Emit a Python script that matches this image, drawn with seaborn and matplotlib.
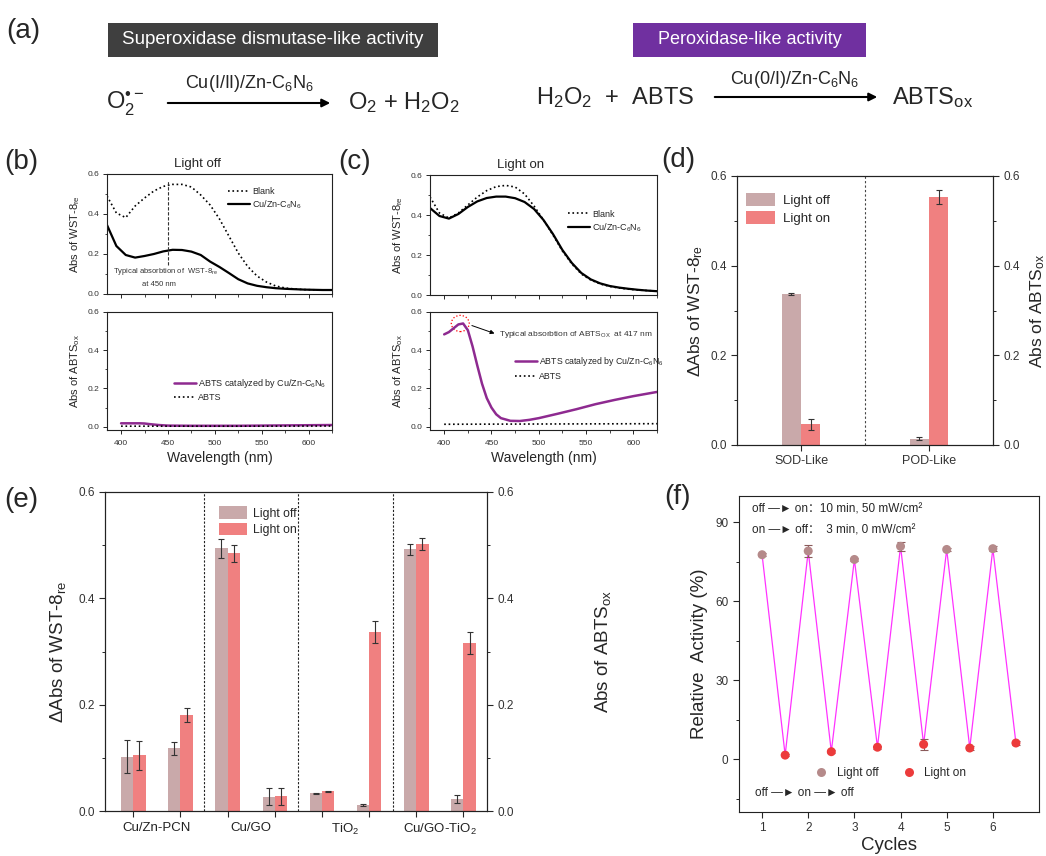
import pandas as pd
import seaborn as sns
import matplotlib as mpl
import matplotlib.pyplot as plt
from matplotlib.patches import Rectangle, Ellipse, FancyArrowPatch

sns.set_style("ticks")
mpl.rcParams['font.family'] = ['Liberation Sans', 'DejaVu Sans', 'Noto Sans CJK SC']
mpl.rcParams['mathtext.fontset'] = 'custom'
mpl.rcParams['mathtext.rm'] = 'Liberation Sans'
mpl.rcParams['mathtext.it'] = 'Liberation Sans:italic'
mpl.rcParams['mathtext.bf'] = 'Liberation Sans:bold'
mpl.rcParams['axes.linewidth'] = 0.8
mpl.rcParams['axes.edgecolor'] = '#222222'

# ---------------- data ----------------
# UV-vis spectra (b, c), WST-8 region
wavelength = [385, 395, 405, 415, 425, 435, 445, 455, 465, 475, 485, 495, 505,
              515, 525, 535, 545, 555, 565, 575, 585, 595, 605, 615, 625]
blank_off = [0.49, 0.405, 0.382, 0.44, 0.48, 0.515, 0.538, 0.548, 0.548, 0.535, 0.495, 0.445, 0.375,
             0.29, 0.205, 0.138, 0.09, 0.06, 0.04, 0.03, 0.025, 0.022, 0.021, 0.02, 0.02]
cu_off = [0.345, 0.24, 0.195, 0.182, 0.19, 0.2, 0.213, 0.221, 0.22, 0.212, 0.195, 0.162, 0.135,
          0.105, 0.074, 0.053, 0.041, 0.034, 0.029, 0.026, 0.024, 0.022, 0.021, 0.02, 0.02]
blank_on = [0.49, 0.41, 0.385, 0.41, 0.45, 0.49, 0.522, 0.542, 0.548, 0.54, 0.505, 0.445, 0.375,
            0.3, 0.22, 0.155, 0.105, 0.075, 0.055, 0.043, 0.035, 0.029, 0.025, 0.022, 0.02]
cu_on = [0.435, 0.395, 0.382, 0.405, 0.44, 0.468, 0.485, 0.492, 0.492, 0.484, 0.465, 0.43, 0.375,
         0.305, 0.225, 0.16, 0.11, 0.078, 0.058, 0.045, 0.037, 0.031, 0.026, 0.022, 0.019]

# ABTS region
abts_wl_off = [400, 410, 420, 425, 430, 440, 450, 475, 500, 525, 550, 575, 600, 625]
abts_cat_off = [0.018, 0.018, 0.018, 0.017, 0.014, 0.009, 0.006, 0.005, 0.005, 0.005, 0.006, 0.007, 0.008, 0.009]
abts_ref_wl = [400, 475, 550, 625]
abts_ref_off = [0.003, 0.003, 0.003, 0.004]
abts_wl_on = [400, 405, 410, 415, 420, 425, 430, 435, 440, 445, 450, 455, 460,
              470, 480, 490, 500, 520, 540, 560, 580, 600, 625]
abts_cat_on = [0.483, 0.495, 0.515, 0.535, 0.54, 0.505, 0.42, 0.32, 0.225, 0.15, 0.1, 0.065, 0.045,
               0.031, 0.03, 0.036, 0.045, 0.068, 0.092, 0.118, 0.14, 0.16, 0.182]
abts_ref_on = [0.013, 0.014, 0.015, 0.016]

# (d)
assays_d = ['SOD-Like', 'POD-Like']
d_off = [0.336, 0.014]
d_off_err = [0.002, 0.003]
d_on = [0.046, 0.553]
d_on_err = [0.013, 0.016]

# (e)
materials = ['Cu/Zn-PCN', 'Cu/GO', 'TiO$_2$', 'Cu/GO-TiO$_2$']
assays_e = ['SOD', 'POD']
e_off = [0.102, 0.118, 0.494, 0.027, 0.033, 0.011, 0.492, 0.023]
e_off_err = [0.031, 0.012, 0.018, 0.016, 0.001, 0.002, 0.010, 0.008]
e_on = [0.105, 0.180, 0.485, 0.028, 0.037, 0.337, 0.502, 0.316]
e_on_err = [0.027, 0.013, 0.016, 0.016, 0.001, 0.021, 0.012, 0.020]

# (f)
cycles_off = [1, 2, 3, 4, 5, 6]
act_off = [77.7, 79.1, 75.9, 80.9, 79.7, 80.0]
act_off_err = [0.6, 2.2, 0.7, 1.6, 0.6, 0.9]
cycles_on = [1.5, 2.5, 3.5, 4.5, 5.5, 6.5]
act_on = [1.6, 2.9, 4.6, 5.7, 4.3, 6.2]
act_on_err = [0.5, 0.6, 0.6, 2.0, 0.6, 0.6]

off_c = '#c9a9aa'
on_c = '#f08080'
purple = '#8e2a90'

W, H = 1046, 856
fig = plt.figure(figsize=(W / 100, H / 100), dpi=100)


def box(l, t, r, b):
    return [l / W, 1 - b / H, (r - l) / W, (b - t) / H]


def style_spec(ax, bottom):
    ax.set_xlim(385, 625)
    ax.set_xticks([400, 450, 500, 550, 600])
    ax.set_xticks([425, 475, 525, 575, 625], minor=True)
    ax.set_yticks([0, 0.2, 0.4, 0.6])
    ax.set_yticks([0.1, 0.3, 0.5], minor=True)
    ax.yaxis.set_major_formatter('{x:.1f}')
    ax.tick_params(which='major', length=3, width=0.7, labelsize=6, labelcolor='#333', pad=2.5)
    ax.tick_params(axis='x', which='major', pad=4)
    ax.tick_params(which='minor', length=1.8, width=0.6)
    if not bottom:
        ax.tick_params(labelbottom=False)
        ax.set_ylim(0, 0.6)
    else:
        ax.set_ylim(-0.017, 0.6)
        ax.set_xlabel('Wavelength (nm)', fontsize=10, labelpad=3)
    for s in ax.spines.values():
        s.set_visible(True)


# ---------------- (a) header ----------------
fig.text(6 / W, 1 - 31 / H, '(a)', fontsize=20, va='center')
fig.add_artist(Rectangle((108 / W, 1 - 57 / H), 330 / W, 34 / H, transform=fig.transFigure,
                         facecolor='#3f3f3f', edgecolor='none'))
fig.text(273 / W, 1 - 40 / H, 'Superoxidase dismutase-like activity', color='white',
         fontsize=13.5, ha='center', va='center')
fig.add_artist(Rectangle((633 / W, 1 - 57 / H), 233 / W, 34 / H, transform=fig.transFigure,
                         facecolor='#7030a0', edgecolor='none'))
fig.text(749.5 / W, 1 - 40 / H, 'Peroxidase-like activity', color='white',
         fontsize=13, ha='center', va='center')

fig.text(106 / W, 1 - 103 / H, 'O$_2^{•-}$', fontsize=17, va='center')
fig.add_artist(FancyArrowPatch((165 / W, 1 - 103 / H), (333 / W, 1 - 103 / H), transform=fig.transFigure,
                               arrowstyle='-|>', mutation_scale=12, lw=1.5, color='k'))
fig.text(249 / W, 1 - 83 / H, 'Cu(I/II)/Zn-C$_6$N$_6$', fontsize=13, ha='center', va='center')
fig.text(348 / W, 1 - 103 / H, 'O$_2$ + H$_2$O$_2$', fontsize=17, va='center')

fig.text(536 / W, 1 - 98 / H, 'H$_2$O$_2$  +  ABTS', fontsize=17, va='center')
fig.add_artist(FancyArrowPatch((712 / W, 1 - 97 / H), (880 / W, 1 - 97 / H), transform=fig.transFigure,
                               arrowstyle='-|>', mutation_scale=12, lw=1.5, color='k'))
fig.text(795 / W, 1 - 80 / H, 'Cu(0/I)/Zn-C$_6$N$_6$', fontsize=13, ha='center', va='center')
fig.text(892 / W, 1 - 98 / H, 'ABTS$_\\mathrm{ox}$', fontsize=17, va='center')

# ---------------- (b) light off ----------------
ax_b1 = fig.add_axes(box(107, 174, 332, 294))
ax_b2 = fig.add_axes(box(107, 312, 332, 430))
fig.text(4 / W, 1 - 162 / H, '(b)', fontsize=20, va='center')

sns.lineplot(x=wavelength, y=blank_off, ax=ax_b1, color='k', lw=1.2, linestyle=':', label='Blank')
sns.lineplot(x=wavelength, y=cu_off, ax=ax_b1, color='k', lw=1.6, label='Cu/Zn-C$_6$N$_6$')
peak_nm = 450
ax_b1.vlines(peak_nm, 0.146, 0.564, colors='#333', linestyles=(0, (3, 1.5)), lw=0.8)
ax_b1.text(447, 0.112, 'Typical absorbtion of  WST-8$_\\mathrm{re}$', fontsize=5.5, ha='center', va='center', color='#333')
ax_b1.text(440, 0.045, 'at 450 nm', fontsize=5.5, ha='center', va='center', color='#333')
ax_b1.legend(loc='upper left', bbox_to_anchor=(0.5, 0.96), frameon=False, fontsize=6.5,
             handlelength=2.5, handletextpad=0.2, labelspacing=0.3)
ax_b1.set_title('Light off', fontsize=9.5, pad=5, x=0.4)
ax_b1.set_ylabel('Abs of WST-8$_\\mathrm{re}$', fontsize=8, labelpad=4)
style_spec(ax_b1, False)

sns.lineplot(x=abts_wl_off, y=abts_cat_off, ax=ax_b2, color=purple, lw=1.8,
             label='ABTS catalyzed by Cu/Zn-C$_6$N$_6$')
sns.lineplot(x=abts_ref_wl, y=abts_ref_off, ax=ax_b2, color='k', lw=1.2, linestyle=':', label='ABTS')
ax_b2.legend(loc='upper left', bbox_to_anchor=(0.26, 0.52), frameon=False, fontsize=6.5,
             handlelength=2.5, handletextpad=0.2, labelspacing=0.4)
ax_b2.set_ylabel('Abs of ABTS$_\\mathrm{ox}$', fontsize=8, labelpad=4)
style_spec(ax_b2, True)

# ---------------- (c) light on ----------------
ax_c1 = fig.add_axes(box(430, 175, 657, 295))
ax_c2 = fig.add_axes(box(430, 312, 657, 430))
fig.text(338 / W, 1 - 162 / H, '(c)', fontsize=20, va='center')

sns.lineplot(x=wavelength, y=blank_on, ax=ax_c1, color='k', lw=1.2, linestyle=':', label='Blank')
sns.lineplot(x=wavelength, y=cu_on, ax=ax_c1, color='k', lw=1.6, label='Cu/Zn-C$_6$N$_6$')
ax_c1.legend(loc='upper left', bbox_to_anchor=(0.57, 0.78), frameon=False, fontsize=6.5,
             handlelength=2.5, handletextpad=0.2, labelspacing=0.3)
ax_c1.set_title('Light on', fontsize=9.5, pad=5, x=0.4)
ax_c1.set_ylabel('Abs of WST-8$_\\mathrm{re}$', fontsize=8, labelpad=4)
style_spec(ax_c1, False)

sns.lineplot(x=abts_wl_on, y=abts_cat_on, ax=ax_c2, color=purple, lw=1.8,
             label='ABTS catalyzed by Cu/Zn-C$_6$N$_6$')
sns.lineplot(x=abts_ref_wl, y=abts_ref_on, ax=ax_c2, color='k', lw=1.2, linestyle=':', label='ABTS')
ax_c2.add_patch(Ellipse((417, 0.54), 19, 0.085, fill=False, ec='red', ls=':', lw=0.9))
ax_c2.annotate('', xy=(456, 0.483), xytext=(426.5, 0.534),
               arrowprops=dict(arrowstyle='-|>', color='k', lw=0.7, mutation_scale=6))
ax_c2.text(458, 0.48, 'Typical absorbtion of ABTS$_\\mathrm{OX}$  at 417 nm', fontsize=6,
           va='center', color='#333')
ax_c2.legend(loc='upper left', bbox_to_anchor=(0.34, 0.70), frameon=False, fontsize=6.3,
             handlelength=2.5, handletextpad=0.2, labelspacing=0.4)
ax_c2.set_ylabel('Abs of ABTS$_\\mathrm{ox}$', fontsize=8, labelpad=4)
style_spec(ax_c2, True)


# ---------------- bar helpers ----------------
def add_errs(ax, errs_by_level):
    for cont, errs in zip(ax.containers, errs_by_level):
        xs = [p.get_x() + p.get_width() / 2 for p in cont]
        ys = [p.get_height() for p in cont]
        ax.errorbar(xs, ys, yerr=errs, fmt='none', ecolor='#333', elinewidth=0.8,
                    capsize=2.5, capthick=0.8, zorder=4)


def style_bar_y(ax, size):
    ax.set_ylim(0, 0.6)
    ax.set_yticks([0, 0.2, 0.4, 0.6])
    ax.set_yticks([0.1, 0.3, 0.5], minor=True)
    ax.yaxis.set_major_formatter('{x:.1f}')
    ax.tick_params(axis='y', which='major', length=4, width=0.8, labelsize=size, labelcolor='#333')
    ax.tick_params(axis='y', which='minor', length=2.5, width=0.7)
    for s in ax.spines.values():
        s.set_visible(True)


# ---------------- (d) ----------------
ax_d = fig.add_axes(box(737, 176, 993, 445))
fig.text(661 / W, 1 - 160 / H, '(d)', fontsize=20, va='center')
df_d = pd.DataFrame({'Assay': assays_d * 2,
                     'Condition': ['Light off'] * 2 + ['Light on'] * 2,
                     'Value': d_off + d_on})
sns.barplot(data=df_d, x='Assay', y='Value', hue='Condition', palette=[off_c, on_c],
            width=0.3, errorbar=None, saturation=1, ax=ax_d, lw=0)
add_errs(ax_d, [d_off_err, d_on_err])
ax_d.set_xlim(-0.5, 1.5)
ax_d.axvline(0.5, color='#444', ls=(0, (2, 2)), lw=0.8)
style_bar_y(ax_d, 8.5)
ax_d.tick_params(axis='x', length=4, width=0.8, labelsize=9, labelcolor='#333')
ax_d.set_xlabel('')
ax_d.set_ylabel('ΔAbs of WST-8$_\\mathrm{re}$', fontsize=12.5, labelpad=4)
h, l = ax_d.get_legend_handles_labels()
ax_d.legend(h, l, loc='upper left', bbox_to_anchor=(-0.01, 0.98), frameon=False, fontsize=9.5,
            handlelength=2.2, handleheight=1.1, labelspacing=0.3, handletextpad=0.6)
ax_d2 = ax_d.twinx()
style_bar_y(ax_d2, 8.5)
ax_d2.set_ylabel('Abs of ABTS$_\\mathrm{ox}$', fontsize=12.5, labelpad=6)

# ---------------- (e) ----------------
ax_e = fig.add_axes(box(105, 492, 487, 811))
fig.text(4 / W, 1 - 500 / H, '(e)', fontsize=20, va='center')
cats = [f'{m} {a}' for m in materials for a in assays_e]
df_e = pd.DataFrame({'Sample': cats * 2,
                     'Condition': ['Light off'] * 8 + ['Light on'] * 8,
                     'Value': e_off + e_on})
sns.barplot(data=df_e, x='Sample', y='Value', hue='Condition', palette=[off_c, on_c],
            width=0.52, errorbar=None, saturation=1, ax=ax_e, lw=0)
add_errs(ax_e, [e_off_err, e_on_err])
ax_e.set_xlim(-0.6, 7.5)
for xd in [1.5, 3.5, 5.5]:
    ax_e.axvline(xd, color='#222', ls=(0, (2, 1.5)), lw=0.8)
style_bar_y(ax_e, 8.5)
ax_e.set_xticks(range(8), [''] * 8)
ax_e.set_xticks([0.5, 2.5, 4.5, 6.5], materials, minor=True)
ax_e.tick_params(axis='x', which='major', length=4.5, width=0.8)
ax_e.tick_params(axis='x', which='minor', length=0, labelsize=9.5, pad=8, labelcolor='#222')
ax_e.set_xlabel('')
ax_e.set_ylabel('ΔAbs of WST-8$_\\mathrm{re}$', fontsize=13.5, labelpad=7)
h, l = ax_e.get_legend_handles_labels()
ax_e.legend(h, l, loc='upper left', bbox_to_anchor=(0.27, 0.99), frameon=False, fontsize=8.8,
            handlelength=2.3, handleheight=1.2, labelspacing=0.25, handletextpad=0.5)
ax_e2 = ax_e.twinx()
style_bar_y(ax_e2, 8.5)
ax_e2.set_ylabel('Abs of ABTS$_\\mathrm{ox}$', fontsize=13.5, labelpad=57)

# ---------------- (f) ----------------
ax_f = fig.add_axes(box(739, 496, 1039, 812))
fig.text(664 / W, 1 - 497 / H, '(f)', fontsize=20, va='center')
df_f = pd.DataFrame({'Cycle': cycles_off + cycles_on,
                     'Activity': act_off + act_on,
                     'Err': act_off_err + act_on_err,
                     'Condition': ['Light off'] * 6 + ['Light on'] * 6}).sort_values('Cycle')
sns.lineplot(data=df_f, x='Cycle', y='Activity', color='#ff33ff', lw=0.9, errorbar=None, ax=ax_f)
ax_f.errorbar(df_f['Cycle'], df_f['Activity'], yerr=df_f['Err'], fmt='none', ecolor='#8a5a5a',
              elinewidth=0.8, capsize=3, capthick=0.8, zorder=3)
sns.scatterplot(data=df_f, x='Cycle', y='Activity', hue='Condition', palette=['#b58a8a', '#ec3b3b'],
                s=42, edgecolor='none', ax=ax_f, zorder=4)
ax_f.set_xlim(0.5, 7.0)
ax_f.set_ylim(-20, 100)
ax_f.set_xticks([1, 2, 3, 4, 5, 6])
ax_f.set_yticks([0, 30, 60, 90])
ax_f.set_yticks([-15, 15, 45, 75], minor=True)
ax_f.tick_params(which='major', length=4, width=0.8, labelsize=8.5, labelcolor='#333')
ax_f.tick_params(which='minor', length=2.5, width=0.7)
for s in ax_f.spines.values():
    s.set_visible(True)
ax_f.set_xlabel('Cycles', fontsize=13.5, labelpad=2)
ax_f.set_ylabel('Relative  Activity (%)', fontsize=13.5, labelpad=5)
h, l = ax_f.get_legend_handles_labels()
ax_f.legend(h, l, loc='center left', bbox_to_anchor=(0.2, 0.123), ncol=2, frameon=False,
            fontsize=8.5, handletextpad=0.3, columnspacing=1.6)
ax_f.text(0.045, 0.956, 'off —► on：10 min, 50 mW/cm²', transform=ax_f.transAxes,
          fontsize=8.5, va='center')
ax_f.text(0.045, 0.892, 'on —► off：  3 min, 0 mW/cm²', transform=ax_f.transAxes,
          fontsize=8.5, va='center')
ax_f.text(0.053, 0.06, 'off —► on —► off', transform=ax_f.transAxes, fontsize=8.5, va='center')

fig.savefig('out.png', dpi=100)
